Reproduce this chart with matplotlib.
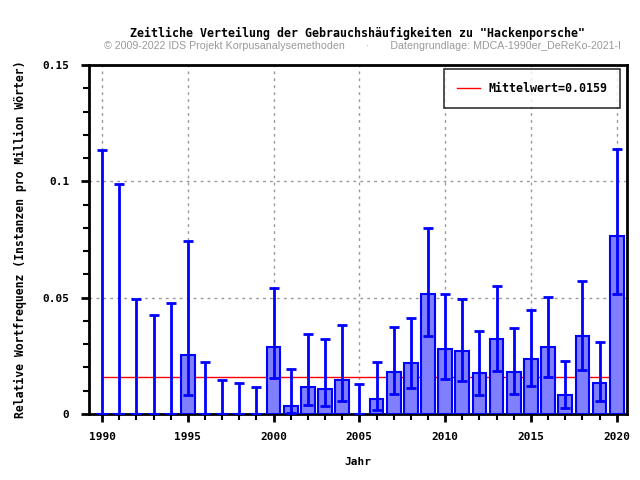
import matplotlib
matplotlib.use("Agg")
import matplotlib.pyplot as plt
from matplotlib.ticker import MultipleLocator, FixedLocator
import numpy as np

years = list(range(1990, 2021))
values = [0, 0, 0, 0, 0, 0.0252, 0, 0, 0, 0, 0.0289, 0.0036, 0.0117, 0.0109, 0.0148, 0,
          0.0063, 0.0179, 0.0218, 0.0517, 0.0278, 0.0269, 0.0175, 0.0321, 0.0179, 0.0235,
          0.0287, 0.0080, 0.0334, 0.0132, 0.0766]
err_low = [0, 0, 0, 0, 0, 0.0083, 0, 0, 0, 0, 0.0156, 0.0006, 0.0040, 0.0034, 0.0057, 0,
           0.0019, 0.0087, 0.0112, 0.0337, 0.0150, 0.0142, 0.0082, 0.0186, 0.0087, 0.0122,
           0.0160, 0.0027, 0.0190, 0.0057, 0.0517]
err_high = [0.1135, 0.0989, 0.0496, 0.0427, 0.0478, 0.0745, 0.0225, 0.0146, 0.0135, 0.0117,
            0.0542, 0.0193, 0.0345, 0.0324, 0.0383, 0.0128, 0.0225, 0.0375, 0.0414, 0.0801,
            0.0517, 0.0496, 0.0358, 0.0552, 0.0371, 0.0448, 0.0504, 0.0229, 0.0573, 0.0311,
            0.1140]
mean_value = 0.0159

title = 'Zeitliche Verteilung der Gebrauchshäufigkeiten zu "Hackenporsche"'
subtitle = '© 2009-2022 IDS Projekt Korpusanalysemethoden       ·       Datengrundlage: MDCA-1990er_DeReKo-2021-I'

mono = 'DejaVu Sans Mono'

fig = plt.figure(figsize=(6.4, 4.8), dpi=100)
ax = fig.add_axes([89/640, 66/480, 538/640, 349/480])

y = np.array(values)
lo = y - np.array(err_low)
hi = np.array(err_high) - y

ax.grid(True, which='major', linestyle=(0, (2, 3)), color='#999999', linewidth=1)
ax.set_axisbelow(True)

ax.plot([years[0], years[-1]], [mean_value, mean_value], color='red', linewidth=1,
        label='Mittelwert=0.0159', zorder=2)
ax.bar(years, values, width=0.8, color='#8080FF', edgecolor='#0000FF', linewidth=1.5, zorder=3)
ax.errorbar(years, values, yerr=[lo, hi], fmt='none', ecolor='#0000FF', elinewidth=2,
            capsize=3.5, capthick=2, zorder=4)

ax.set_xlim(1989.24, 2020.6)
ax.set_ylim(0, 0.15)
ax.xaxis.set_major_locator(FixedLocator([1990, 1995, 2000, 2005, 2010, 2015, 2020]))
ax.xaxis.set_minor_locator(MultipleLocator(1))
ax.yaxis.set_major_locator(FixedLocator([0, 0.05, 0.1, 0.15]))
ax.yaxis.set_minor_locator(MultipleLocator(0.01))
ax.set_yticklabels(['0', '0.05', '0.1', '0.15'])
ax.tick_params(which='major', length=6, width=2, direction='out')
ax.tick_params(which='minor', length=4, width=1.5, direction='out')
for lab in ax.get_xticklabels() + ax.get_yticklabels():
    lab.set_family(mono)
    lab.set_fontweight('bold')
    lab.set_fontsize(8)
ax.tick_params(axis='x', pad=7)
ax.tick_params(axis='y', pad=8)
for s in ax.spines.values():
    s.set_linewidth(2)

ax.set_xlabel('Jahr', family=mono, fontweight='bold', fontsize=8)
ax.set_ylabel('Relative Wortfrequenz (Instanzen pro Million Wörter)', family=mono,
              fontweight='bold', fontsize=8.3)
ax.xaxis.set_label_coords(0.5, -0.1375)
ax.yaxis.set_label_coords(-0.128, 0.5)
ax.xaxis.label.set_va('center')
ax.yaxis.label.set_va('center')

fig.text(358/640, 1 - 33/480, title, ha='center', va='center', family=mono,
         fontweight='bold', fontsize=8.4)
fig.text(362/640, 1 - 46/480, subtitle, ha='center', va='center', family='Liberation Sans',
         fontsize=7.7, color='#999999')

leg = ax.legend(loc='upper right', prop={'family': mono, 'weight': 'bold', 'size': 8.4},
                frameon=True, fancybox=False, edgecolor='black', borderpad=1.1,
                handlelength=2.0, handletextpad=0.7, borderaxespad=0,
                bbox_to_anchor=(0.987, 0.9885))
leg.get_frame().set_linewidth(1.2)

fig.savefig('out.png', dpi=100)
